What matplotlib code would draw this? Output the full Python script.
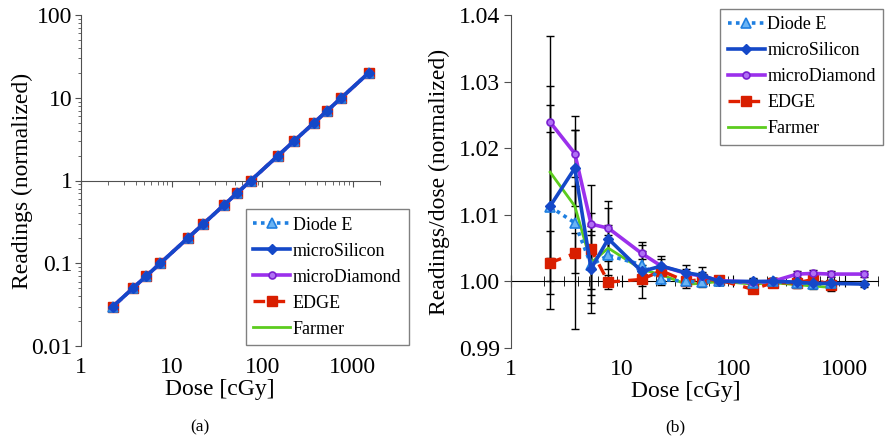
import numpy as np
import matplotlib
matplotlib.use("Agg")
import matplotlib.pyplot as plt
from matplotlib.ticker import FixedLocator, FixedFormatter, LogLocator, NullLocator, FormatStrFormatter, NullFormatter

plt.rcParams['font.family'] = ['Liberation Serif', 'DejaVu Serif']

# ---------------- data ----------------
doses = [2.25, 3.75, 5.25, 7.5, 15, 22.5, 37.5, 52.5, 75, 150, 225, 375, 525, 750, 1500]
readings = [0.03, 0.05, 0.07, 0.1, 0.2, 0.3, 0.5, 0.7, 1, 2, 3, 5, 7, 10, 20]

nan = np.nan
diode_r = [1.0112, 1.0088, 1.0025, 1.0039, 1.0025, 1.0003, 1.0000, 0.9999, 1.0000, 0.9998, 1.0000, 0.9998, 0.9996, 0.9997, nan]
silicon_r = [1.0113, 1.0170, 1.0019, 1.0064, 1.0015, 1.0023, 1.0013, 1.0009, 1.0000, 1.0000, 1.0000, 0.9999, 0.9997, 0.9997, 0.9996]
diamond_r = [1.0239, 1.0192, 1.0086, 1.0080, 1.0042, 1.0023, 1.0012, 1.0008, 1.0001, 0.9999, 1.0000, 1.0011, 1.0012, 1.0011, 1.0011]
edge_r = [1.0028, 1.0042, 1.0048, 0.9999, 1.0003, 1.0016, 1.0000, 1.0003, 1.0002, 0.9988, 0.9998, 0.9998, 1.0003, 0.9995, nan]
farmer_r = [1.0164, 1.0113, 1.0028, 1.0050, 1.0018, 1.0010, 0.9996, 0.9997, 1.0000, 0.9996, 0.9998, 0.9995, 0.9993, 0.9991, nan]

diode_e = [0.0153, 0.0160, 0.0058, 0.0045, 0.0020, 0.0008, 0.0006, 0.0006, 0.0005, 0.0005, 0.0005, 0.0005, 0.0005, 0.0005, nan]
silicon_e = [0.0112, 0.0057, 0.0031, 0.0046, 0.0040, 0.0015, 0.0012, 0.0013, 0.0005, 0.0005, 0.0005, 0.0005, 0.0005, 0.0005, 0.0005]
diamond_e = [0.0130, 0.0035, 0.0017, 0.0040, 0.0017, 0.0011, 0.0006, 0.0006, 0.0005, 0.0005, 0.0005, 0.0005, 0.0005, 0.0005, 0.0005]
edge_e = [0.0047, 0.0030, 0.0096, 0.0010, 0.0010, 0.0008, 0.0006, 0.0006, 0.0005, 0.0005, 0.0005, 0.0005, 0.0005, 0.0005, nan]
farmer_e = [0.0129, 0.0030, 0.0048, 0.0020, 0.0015, 0.0008, 0.0006, 0.0006, 0.0005, 0.0005, 0.0005, 0.0005, 0.0005, 0.0005, nan]

names = ['Diode E', 'microSilicon', 'microDiamond', 'EDGE', 'Farmer']
x_ticks = [1, 10, 100, 1000]
x_ticklabels = ['1', '10', '100', '1000']
yl_ticks = [0.01, 0.1, 1, 10, 100]
yl_ticklabels = ['0.01', '0.1', '1', '10', '100']
yr_ticks = [0.99, 1.00, 1.01, 1.02, 1.03, 1.04]

# ---------------- styles ----------------
styles = {
    'Diode E': dict(color='#1f7fe0', ls=(0, (1, 1.2)), lw=2.6, marker='^', ms=6.5, mfc='#6ab4f5', mec='#1f7fe0', mew=1.2),
    'microSilicon': dict(color='#1448c8', ls='-', lw=2.6, marker='D', ms=5.5, mfc='#1448c8', mec='#1448c8'),
    'microDiamond': dict(color='#9b30ec', ls='-', lw=2.6, marker='o', ms=5, mfc='#b070f5', mec='#7a20d0', mew=1.2),
    'EDGE': dict(color='#e02000', ls=(0, (3.5, 2.5)), lw=2.4, marker='s', ms=7.5, mfc='#d81e00', mec='#d81e00'),
    'Farmer': dict(color='#5ccc1e', ls='-', lw=2.0, marker='None'),
}
zorders = {'Diode E': 5, 'microSilicon': 7, 'microDiamond': 6, 'EDGE': 4, 'Farmer': 3}

W, H = 893, 441
fig = plt.figure(figsize=(W / 100, H / 100), dpi=100)

axL = fig.add_axes([81 / W, 1 - 346 / H, 299 / W, 331 / H])
axR = fig.add_axes([511 / W, 1 - 348 / H, 367 / W, 333 / H])

FS = 17
spine_c = '#505050'
leg_kw = dict(borderaxespad=0, fontsize=13, frameon=True, fancybox=False, edgecolor='#606060',
              handlelength=2.05, handletextpad=0.15, labelspacing=0.5, borderpad=0.4)

# ---------------- left chart ----------------
axL.set_xscale('log')
axL.set_yscale('log')
axL.set_xlim(1, 2000)
axL.set_ylim(0.01, 100)
left_order = ['Diode E', 'microDiamond', 'Farmer', 'EDGE', 'microSilicon']
handlesL = {}
for n in left_order:
    h, = axL.plot(doses, readings, label=n, zorder=zorders[n], **styles[n])
    handlesL[n] = h

for s in ['top', 'right', 'bottom']:
    axL.spines[s].set_visible(False)
axL.spines['left'].set_color(spine_c)
axL.xaxis.set_major_locator(FixedLocator(x_ticks))
axL.xaxis.set_major_formatter(FixedFormatter(x_ticklabels))
axL.xaxis.set_minor_locator(NullLocator())
axL.tick_params(axis='x', which='both', length=0, labelsize=FS, pad=8)
axL.yaxis.set_major_locator(FixedLocator(yl_ticks))
axL.yaxis.set_major_formatter(FixedFormatter(yl_ticklabels))
axL.yaxis.set_minor_locator(LogLocator(base=10, subs=np.arange(2, 10)))
axL.yaxis.set_minor_formatter(NullFormatter())
axL.tick_params(axis='y', which='major', length=4, color=spine_c, labelsize=FS, pad=2)
axL.tick_params(axis='y', which='minor', length=2.5, color=spine_c)
axL.set_xlabel('Dose [cGy]', fontsize=FS, labelpad=2)
axL.xaxis.set_label_coords(0.465, -0.1)
axL.set_ylabel('Readings (normalized)', fontsize=FS)
axL.yaxis.set_label_coords(-0.16, 0.5)

secL = axL.secondary_xaxis(0.5)
secL.set_alignment('bottom')
secL.spines['bottom'].set_color(spine_c)
secL.xaxis.set_major_locator(FixedLocator(x_ticks))
secL.xaxis.set_minor_locator(LogLocator(base=10, subs=np.arange(2, 10)))
secL.tick_params(axis='x', which='both', labelbottom=False, labeltop=False, direction='out', color=spine_c)
secL.tick_params(axis='x', which='major', length=4)
secL.tick_params(axis='x', which='minor', length=3)

legL = axL.legend([handlesL[n] for n in names], names, loc='lower left', bbox_to_anchor=(0.552, 0.003), **leg_kw)
legL.get_frame().set_linewidth(1.0)
legL.set_zorder(10)

# ---------------- right chart ----------------
axR.set_xscale('log')
axR.set_xlim(1, 2000)
axR.set_ylim(0.99, 1.04)
ratios = {'Diode E': diode_r, 'microSilicon': silicon_r, 'microDiamond': diamond_r, 'EDGE': edge_r, 'Farmer': farmer_r}
errs = {'Diode E': diode_e, 'microSilicon': silicon_e, 'microDiamond': diamond_e, 'EDGE': edge_e, 'Farmer': farmer_e}
handlesR = {}
for n in names:
    axR.errorbar(doses, ratios[n], yerr=errs[n], fmt='none', ecolor='black', elinewidth=1.0,
                 capsize=3.2, capthick=1.0, zorder=2)
right_order = ['Farmer', 'EDGE', 'Diode E', 'microDiamond', 'microSilicon']
for n in right_order:
    h, = axR.plot(doses, ratios[n], label=n, zorder=zorders[n], **styles[n])
    handlesR[n] = h

for s in ['top', 'right', 'bottom']:
    axR.spines[s].set_visible(False)
axR.spines['left'].set_color(spine_c)
axR.xaxis.set_major_locator(FixedLocator(x_ticks))
axR.xaxis.set_major_formatter(FixedFormatter(x_ticklabels))
axR.xaxis.set_minor_locator(NullLocator())
axR.tick_params(axis='x', which='both', length=0, labelsize=FS, pad=8)
axR.yaxis.set_major_locator(FixedLocator(yr_ticks))
axR.yaxis.set_major_formatter(FormatStrFormatter('%.2f'))
axR.yaxis.set_minor_locator(NullLocator())
axR.tick_params(axis='y', which='major', length=5, color=spine_c, labelsize=FS, pad=3)
axR.set_xlabel('Dose [cGy]', fontsize=FS, labelpad=2)
axR.xaxis.set_label_coords(0.475, -0.1)
axR.set_ylabel('Readings/dose (normalized)', fontsize=FS)
axR.yaxis.set_label_coords(-0.165, 0.5)

secR = axR.secondary_xaxis(0.2)
secR.set_alignment('bottom')
secR.spines['bottom'].set_color('black')
secR.xaxis.set_major_locator(FixedLocator(x_ticks))
secR.xaxis.set_minor_locator(LogLocator(base=10, subs=np.arange(2, 10)))
secR.tick_params(axis='x', which='both', labelbottom=False, labeltop=False, direction='inout', color='black')
secR.tick_params(axis='x', which='major', length=9)
secR.tick_params(axis='x', which='minor', length=7)

legR = axR.legend([handlesR[n] for n in names], names, loc='upper right', bbox_to_anchor=(1.0136, 1.018), **leg_kw)
legR.get_frame().set_linewidth(1.0)
legR.set_zorder(10)

fig.text(200 / W, 1 - 427 / H, '(a)', ha='center', va='center', fontsize=12.5)
fig.text(675 / W, 1 - 427 / H, '(b)', ha='center', va='center', fontsize=12.5)

fig.savefig('out.png', dpi=100)
